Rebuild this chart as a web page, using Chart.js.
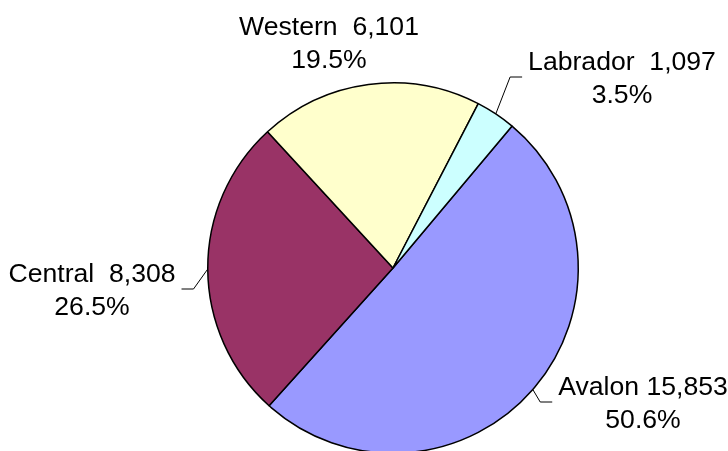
<!DOCTYPE html>
<html>
<head>
<meta charset="utf-8">
<script src="https://cdn.jsdelivr.net/npm/chart.js@4.4.1/dist/chart.umd.min.js"></script>
<style>
  html, body { margin: 0; padding: 0; background: #fff; overflow: hidden; }
  #wrap { width: 728px; height: 540px; }
</style>
</head>
<body>
<div id="wrap"><canvas id="pieChart" width="728" height="540"></canvas></div>
<script>
// Datos del gráfico
var regiones = ['Avalon', 'Central', 'Western', 'Labrador'];
var poblacion = [15853, 8308, 6101, 1097];
var colores = ['#9999FF', '#993366', '#FFFFCC', '#CCFFFF'];

// Posición de las etiquetas (centro x, línea base de la primera línea)
var etiquetaX = [643, 92, 329, 622];
var etiquetaY = [395, 282, 35, 70];
var separador = [' ', '  ', '  ', '  '];
var conGuia = [true, true, false, true];

var total = poblacion.reduce(function (a, b) { return a + b; }, 0);

// Plugin para dibujar etiquetas con líneas guía
var etiquetasPlugin = {
    id: 'etiquetas',
    afterDraw: function (chart) {
        var ctx = chart.ctx;
        var arcs = chart.getDatasetMeta(0).data;
        ctx.save();
        ctx.font = '26.6px "Liberation Sans", Arial, sans-serif';
        ctx.fillStyle = '#000';
        ctx.strokeStyle = '#000';
        ctx.lineWidth = 1;
        ctx.textAlign = 'center';
        ctx.textBaseline = 'alphabetic';
        for (var i = 0; i < regiones.length; i++) {
            var linea1 = regiones[i] + separador[i] + poblacion[i].toLocaleString('en-US');
            var linea2 = (poblacion[i] / total * 100).toFixed(1) + '%';
            var cx = etiquetaX[i], cy = etiquetaY[i];
            ctx.fillText(linea1, cx, cy);
            ctx.fillText(linea2, cx, cy + 33);

            if (conGuia[i]) {
                var arc = arcs[i];
                var mid = (arc.startAngle + arc.endAngle) / 2;
                var px = arc.x + Math.cos(mid) * arc.outerRadius;
                var py = arc.y + Math.sin(mid) * arc.outerRadius;
                var ancho = ctx.measureText(linea1).width;
                var medio = cy + 7;
                // 1 = etiqueta a la derecha del punto, -1 = a la izquierda
                var lado = px < cx ? 1 : -1;
                var borde = cx - lado * ancho / 2;
                var codoX = borde - lado * 18;
                var finX = borde - lado * 6;
                ctx.beginPath();
                ctx.moveTo(px, py);
                ctx.lineTo(codoX, medio);
                ctx.lineTo(finX, medio);
                ctx.stroke();
            }
        }
        ctx.restore();
    }
};

var ctxP = document.getElementById('pieChart').getContext('2d');

var myPieChart = new Chart(ctxP, {
    type: 'pie',
    data: {
        labels: regiones,
        datasets: [{
            data: poblacion,
            backgroundColor: colores,
            borderColor: '#000',
            borderWidth: 1.5,
            hoverOffset: 0
        }]
    },
    options: {
        responsive: false,
        animation: false,
        rotation: 40,
        layout: {
            padding: { left: 207, right: 149, top: 82, bottom: 86 }
        },
        plugins: {
            legend: { display: false },
            tooltip: { enabled: false }
        }
    },
    plugins: [etiquetasPlugin]
});
</script>
</body>
</html>
